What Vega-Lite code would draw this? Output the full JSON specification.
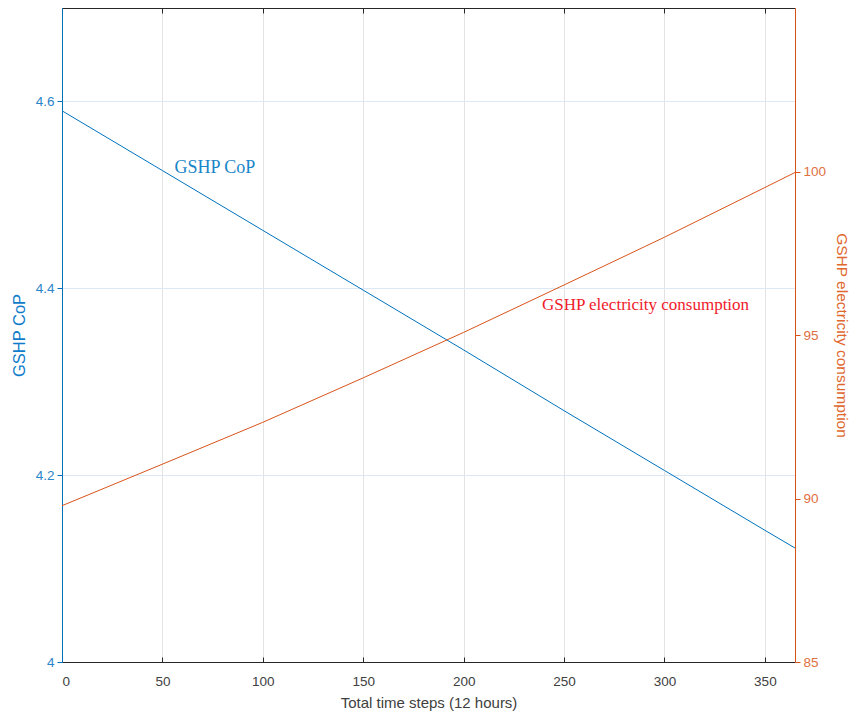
{
  "$schema": "https://vega.github.io/schema/vega-lite/v6.json",
  "width": 733,
  "height": 654,
  "autosize": {"type": "none"},
  "padding": {"left": 62, "top": 8, "right": 57, "bottom": 55},
  "background": "white",
  "config": {
    "view": {"stroke": null},
    "axis": {"labelFont": "Liberation Sans", "titleFont": "Liberation Sans", "titleFontWeight": "normal"}
  },
  "datasets": {
    "series": [
      {"t": 0, "cop": 4.59, "elec": 89.78},
      {"t": 50, "cop": 4.526, "elec": 91.05},
      {"t": 100, "cop": 4.462, "elec": 92.33},
      {"t": 150, "cop": 4.398, "elec": 93.69},
      {"t": 200, "cop": 4.334, "elec": 95.08},
      {"t": 250, "cop": 4.269, "elec": 96.53},
      {"t": 300, "cop": 4.205, "elec": 97.99},
      {"t": 350, "cop": 4.141, "elec": 99.51},
      {"t": 365, "cop": 4.122, "elec": 99.97}
    ],
    "labels_cop": [{"t": 56, "v": 4.529, "label": "GSHP CoP"}],
    "labels_elec": [{"t": 239, "v": 95.93, "label": "GSHP electricity consumption"}]
  },
  "layer": [
    {
      "layer": [
        {
          "data": {"name": "series"},
          "mark": {"type": "line", "color": "#0072BD", "strokeWidth": 1, "clip": true},
          "encoding": {
            "x": {"field": "t", "type": "quantitative", "scale": {"domain": [0, 365], "nice": false, "zero": false},
              "axis": {"orient": "bottom", "title": "Total time steps (12 hours)", "values": [0, 50, 100, 150, 200, 250, 300, 350],
                "domainColor": "#262626", "tickColor": "#262626", "tickSize": -5, "labelPadding": 17, "labelFontSize": 13.5, "labelColor": "#404040", "titleColor": "#404040",
                "titleFontSize": 15, "titlePadding": 8, "gridColor": "#E3E3E3", "grid": true}},
            "y": {"field": "cop", "type": "quantitative", "scale": {"domain": [4, 4.7], "nice": false, "zero": false},
              "axis": {"orient": "left", "title": "GSHP CoP", "values": [4, 4.2, 4.4, 4.6], "format": "~g",
                "domainColor": "#0072BD", "tickColor": "#0072BD", "tickSize": 5, "labelFontSize": 13.5, "labelColor": "#2A85C9", "titleColor": "#0F7CCB",
                "titleFontSize": 16.5, "labelPadding": 3, "titlePadding": 8, "grid": true, "gridColor": "#DCE8F4"}}
          }
        },
        {
          "data": {"name": "labels_cop"},
          "mark": {"type": "text", "font": "Liberation Serif", "fontSize": 18, "color": "#1A86C8", "align": "left", "baseline": "middle"},
          "encoding": {
            "x": {"field": "t", "type": "quantitative"},
            "y": {"field": "v", "type": "quantitative"},
            "text": {"field": "label"}
          }
        }
      ]
    },
    {
      "layer": [
        {
          "data": {"name": "series"},
          "mark": {"type": "line", "color": "#D95319", "strokeWidth": 1, "clip": true},
          "encoding": {
            "x": {"field": "t", "type": "quantitative",
              "axis": {"orient": "top", "title": null, "labels": false, "values": [0, 50, 100, 150, 200, 250, 300, 350],
                "domainColor": "#262626", "tickColor": "#262626", "tickSize": -5, "grid": false}},
            "y": {"field": "elec", "type": "quantitative", "scale": {"domain": [85, 105], "nice": false, "zero": false},
              "axis": {"orient": "right", "title": "GSHP electricity consumption", "values": [85, 90, 95, 100],
                "domainColor": "#D95319", "tickColor": "#D95319", "tickSize": 5, "labelFontSize": 13.5, "labelColor": "#E0703F", "titleColor": "#E0672E",
                "titleFontSize": 15.5, "labelPadding": 3, "titlePadding": 8, "grid": false}}
          }
        },
        {
          "data": {"name": "labels_elec"},
          "mark": {"type": "text", "font": "Liberation Serif", "fontSize": 17, "color": "#F0202A", "align": "left", "baseline": "middle"},
          "encoding": {
            "x": {"field": "t", "type": "quantitative"},
            "y": {"field": "v", "type": "quantitative"},
            "text": {"field": "label"}
          }
        }
      ]
    }
  ],
  "resolve": {"scale": {"y": "independent"}, "axis": {"x": "independent", "y": "independent"}}
}
